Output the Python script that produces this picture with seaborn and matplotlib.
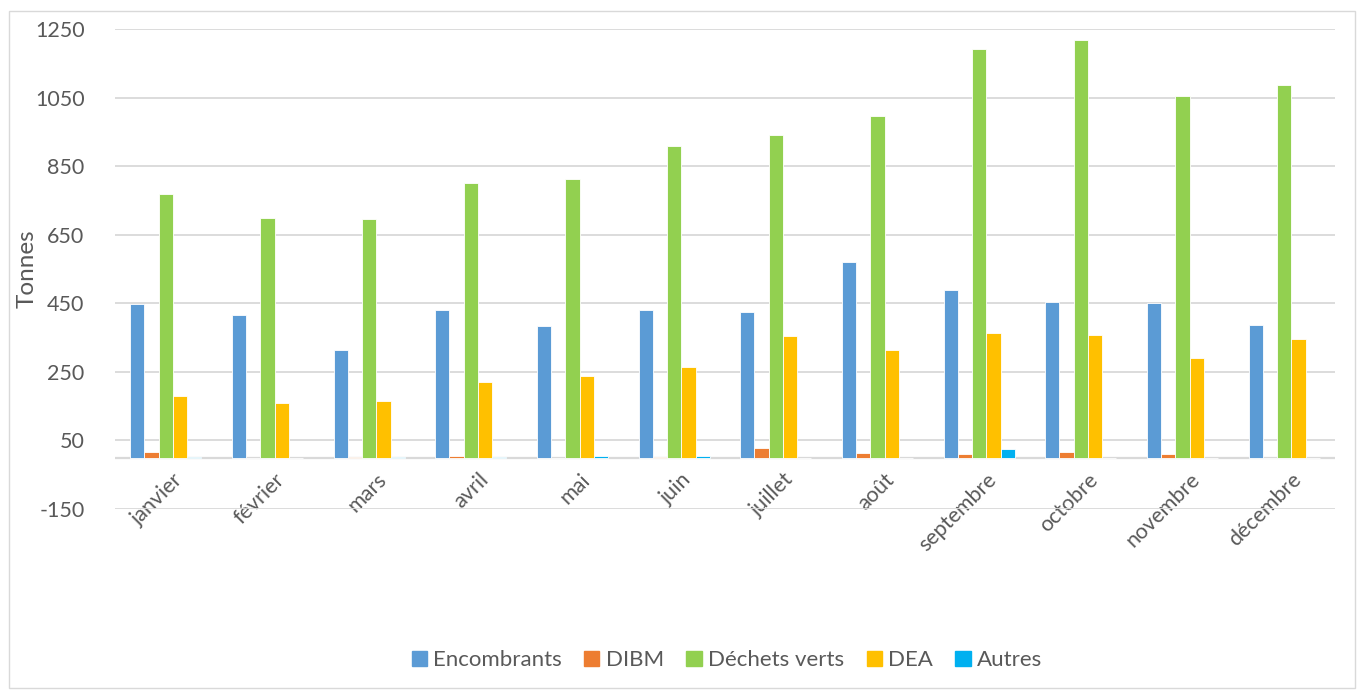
import pandas as pd
import matplotlib.pyplot as plt
import matplotlib.patches as mpatches
import matplotlib.transforms as mtransforms
import seaborn as sns

# ── Data ──────────────────────────────────────────────────────────────────────
months = ["janvier", "février", "mars", "avril", "mai", "juin",
          "juillet", "août", "septembre", "octobre", "novembre", "décembre"]

encombrants   = [448, 417, 314, 431, 385, 429, 424, 570, 489, 454, 451, 387]
dibm          = [17, 0, 2, 5, 0, 2, 28, 14, 11, 17, 9, 0]
dechets_verts = [770, 699, 697, 800, 812, 910, 940, 995, 1191, 1217, 1054, 1086]
dea           = [180, 160, 165, 220, 237, 263, 354, 313, 362, 358, 289, 345]
autres        = [1, 0, 1, 1, 5, 5, 0, 0, 25, 0, 0, 0]

series_names = ["Encombrants", "DIBM", "Déchets verts", "DEA", "Autres"]
series_vals  = [encombrants, dibm, dechets_verts, dea, autres]
colors       = ["#5B9BD5", "#ED7D31", "#92D050", "#FFC000", "#00B0F0"]

y_ticks = list(range(-150, 1251, 200))

# ── Style ─────────────────────────────────────────────────────────────────────
sns.set_theme(style="white")
plt.rcParams["font.family"] = ["Lato", "DejaVu Sans"]
plt.rcParams["axes.unicode_minus"] = False
TXT = "#595959"
GRID = "#D9D9D9"

rows = []
for name, vals in zip(series_names, series_vals):
    for m, v in zip(months, vals):
        rows.append({"mois": m, "tonnes": v, "type": name})
df = pd.DataFrame(rows)

fig = plt.figure(figsize=(13.62, 6.9), dpi=100)
ax = fig.add_axes([115 / 1362, 1 - 509 / 690, 1220 / 1362, 480 / 690])

sns.barplot(data=df, x="mois", y="tonnes", hue="type", order=months,
            hue_order=series_names, palette=colors, saturation=1,
            width=0.7, gap=0, errorbar=None, edgecolor="white",
            linewidth=0.6, ax=ax, zorder=3)

ax.set_ylim(-150, 1250)
ax.set_yticks(y_ticks)
ax.set_xlim(-0.5, len(months) - 0.5)
ax.grid(axis="y", color=GRID, linewidth=1.3, zorder=0)
ax.axhline(0, color=GRID, linewidth=1.6, zorder=2)
for s in ax.spines.values():
    s.set_visible(False)

ax.tick_params(axis="y", length=0, pad=22, labelsize=15.5, labelcolor=TXT)
ax.tick_params(axis="x", length=0, labelsize=15.5, labelcolor=TXT)
ax.set_xticks(range(len(months)))
ax.set_xticklabels(months, rotation=45, ha="right", rotation_mode="anchor")

# x labels hang just below the zero line
shift = mtransforms.ScaledTranslation(7 / 100, -12 / 100, fig.dpi_scale_trans)
for tick in ax.xaxis.get_major_ticks():
    tick.label1.set_transform(ax.get_xaxis_transform() + shift)
    tick.label1.set_position((tick.label1.get_position()[0], 150 / 1400))

ax.set_xlabel("")
ax.set_ylabel("Tonnes", fontsize=17.5, color=TXT)
ax.yaxis.set_label_coords(-77 / 1220, 0.5)

ax.get_legend().remove()
handles = [mpatches.Patch(color=c, label=n) for c, n in zip(colors, series_names)]
fig.legend(handles=handles, loc="center", bbox_to_anchor=(727 / 1362, 1 - 660 / 690),
           ncol=5, frameon=False, fontsize=16, labelcolor=TXT,
           handlelength=0.68, handleheight=0.68, handletextpad=0.3,
           columnspacing=1.0)

# chart border
fig.patches.append(mpatches.Rectangle((9 / 1362, 2 / 690), 1346 / 1362, 677 / 690,
                                      transform=fig.transFigure, fill=False,
                                      edgecolor=GRID, linewidth=1.0))

fig.savefig("out.png", dpi=100)
